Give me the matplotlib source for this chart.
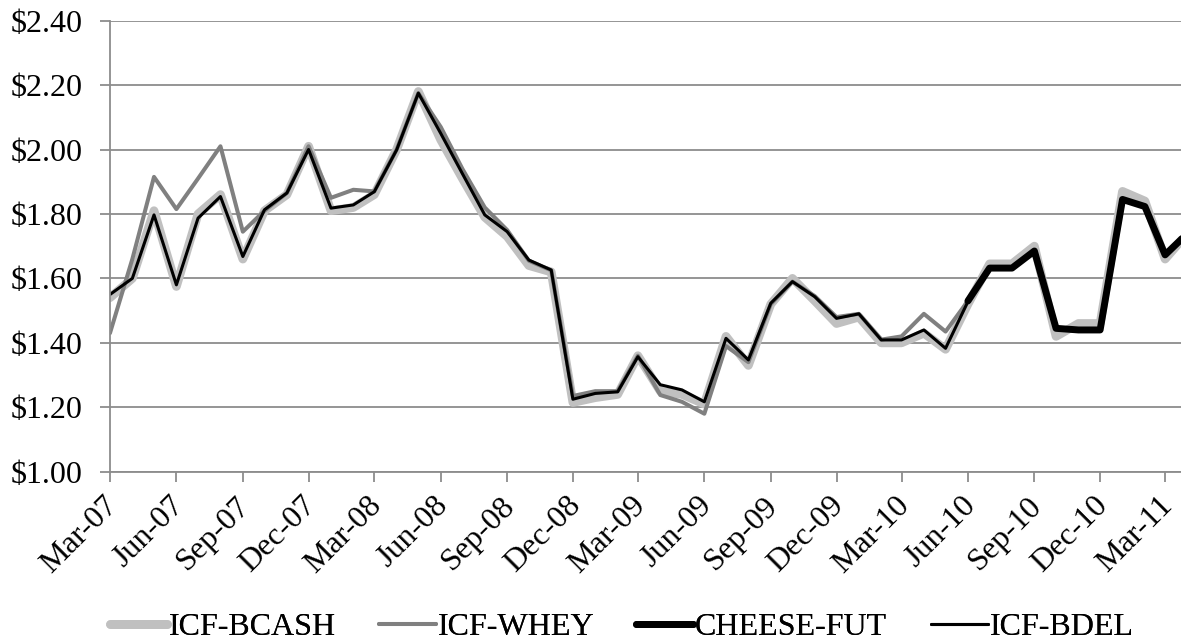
import numpy as np
import pandas as pd
import matplotlib
matplotlib.use("Agg")
import matplotlib.pyplot as plt
import matplotlib.dates as mdates
from matplotlib.ticker import FuncFormatter
from matplotlib.transforms import ScaledTranslation

# -------- DATA ($/lb, monthly) --------
months = pd.date_range("2007-03-01", "2011-04-01", freq="MS")

icf_bcash = [1.54, 1.60, 1.81, 1.575, 1.80, 1.86, 1.66, 1.81, 1.86, 2.01,
             1.81, 1.82, 1.86, 2.00, 2.18, 2.03, 1.91, 1.79, 1.73, 1.64,
             1.62, 1.215, 1.23, 1.24, 1.36, 1.25, 1.24, 1.21, 1.42, 1.33,
             1.52, 1.60, 1.53, 1.46, 1.48, 1.40, 1.40, 1.43, 1.38, 1.52,
             1.645, 1.645, 1.70, 1.42, 1.46, 1.46, 1.87, 1.84, 1.66, 1.74]

icf_whey = [1.43, 1.66, 1.915, 1.815, 1.91, 2.01, 1.745, 1.81, 1.865, 2.01,
            1.85, 1.875, 1.87, 2.00, 2.175, 2.07, 1.94, 1.82, 1.75, 1.655,
            1.625, 1.235, 1.25, 1.25, 1.36, 1.238, 1.217, 1.18, 1.39, 1.34,
            1.52, 1.59, 1.545, 1.48, 1.49, 1.41, 1.42, 1.49, 1.435, 1.53,
            None, None, None, None, None, None, None, None, None, None]

cheese_fut = [None] * 39 + [1.53, 1.632, 1.632, 1.685, 1.445, 1.44, 1.44,
                            1.845, 1.823, 1.673, 1.74]

icf_bdel = [1.55, 1.60, 1.797, 1.58, 1.787, 1.854, 1.668, 1.813, 1.865, 2.00,
            1.818, 1.828, 1.869, 1.999, 2.175, 2.05, 1.925, 1.797, 1.745, 1.657,
            1.626, 1.225, 1.243, 1.248, 1.357, 1.27, 1.254, 1.217, 1.414, 1.347,
            1.523, 1.59, 1.543, 1.476, 1.49, 1.409, 1.409, 1.44, 1.383, 1.528,
            1.632, 1.632, 1.685, 1.445, 1.44, 1.44, 1.845, 1.823, 1.673, 1.74]

def as_series(vals):
    return pd.Series([np.nan if v is None else v for v in vals], index=months)

plt.rcParams["font.family"] = ["Liberation Serif", "DejaVu Serif"]
FS = 23

# -------- PLOT --------
fig = plt.figure(figsize=(11.81, 6.44), dpi=100)
ax = fig.add_axes([0.0931, 0.2675, 0.9069, 0.7005])

style = dict(solid_joinstyle="round", solid_capstyle="round")
lines = []
lines += ax.plot(months, as_series(icf_bcash), color="#c0c0c0", lw=6.3,
                 label="ICF-BCASH", **style)
lines += ax.plot(months, as_series(icf_whey), color="#808080", lw=2.9,
                 label="ICF-WHEY", **style)
lines += ax.plot(months, as_series(cheese_fut), color="black", lw=5.0,
                 label="CHEESE-FUT", **style)
lines += ax.plot(months, as_series(icf_bdel), color="black", lw=2.2,
                 label="ICF-BDEL", **style)

ax.set_ylim(1.0, 2.4)
ax.set_yticks(np.arange(1.0, 2.41, 0.2))
ax.yaxis.set_major_formatter(FuncFormatter(lambda v, p: f"${v:.2f}"))
ax.set_xlim(pd.Timestamp("2007-03-01"), pd.Timestamp("2011-03-23"))

ticks = pd.date_range("2007-03-01", "2011-03-01", freq="3MS")
ax.set_xticks(ticks)
ax.xaxis.set_major_formatter(mdates.DateFormatter("%b-%y"))

ax.grid(axis="y", color="#8c8c8c", lw=1.3)
ax.set_axisbelow(True)
for side in ["top", "right"]:
    ax.spines[side].set_visible(False)
for side in ["left", "bottom"]:
    ax.spines[side].set_color("#8c8c8c")
    ax.spines[side].set_linewidth(1.3)

ax.tick_params(axis="both", colors="#8c8c8c", width=1.3, length=7,
               labelcolor="black", labelsize=FS)
ax.tick_params(axis="y", pad=13)
ax.tick_params(axis="x", pad=7)
shift = ScaledTranslation(-7 / 100, 0, fig.dpi_scale_trans)
for lbl in ax.get_xticklabels():
    lbl.set_rotation(45)
    lbl.set_rotation_mode("anchor")
    lbl.set_ha("right")
    lbl.set_va("top")
    lbl.set_transform(lbl.get_transform() + shift)

# legend entries spread along the bottom
legend_x = [110, 379, 636, 931]
for ln, x in zip(lines, legend_x):
    leg = fig.legend(handles=[ln], loc="center left",
                     bbox_to_anchor=(x / 1181, 0.026), frameon=False,
                     fontsize=FS, handlelength=1.78, handletextpad=0.05,
                     borderpad=0, borderaxespad=0)
    fig.add_artist(leg)

fig.savefig("out.png", dpi=100)
